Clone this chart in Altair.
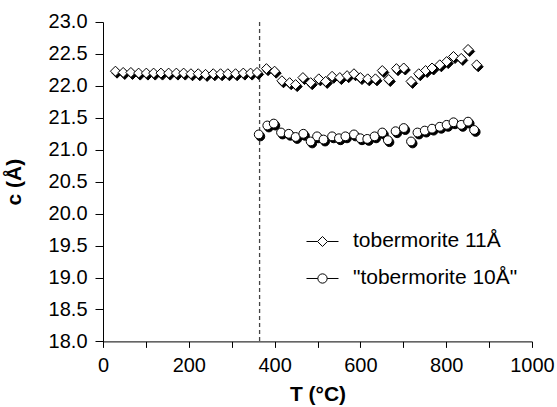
import altair as alt
import pandas as pd

# tobermorite 11Å  (diamonds)
t11_T = [29, 47, 65, 83, 101, 118, 135, 153, 171, 188, 205, 222, 239, 257, 274, 291, 309, 327, 344, 359,
         381, 400, 417, 435, 449, 466, 484, 503, 519, 534, 552, 569, 585, 600, 617, 635, 651, 666, 684, 701,
         718, 736, 752, 767, 785, 801, 817, 835, 851, 871]
t11_c = [22.23, 22.21, 22.21, 22.20, 22.20, 22.20, 22.20, 22.20, 22.20, 22.20, 22.19, 22.19, 22.18, 22.19, 22.19,
         22.19, 22.19, 22.20, 22.20, 22.21,
         22.27, 22.23, 22.08, 22.05, 22.02, 22.13, 22.05, 22.11, 22.07, 22.15, 22.13, 22.16, 22.19, 22.13, 22.11,
         22.11, 22.24, 22.10, 22.27, 22.28, 22.07, 22.19, 22.24, 22.28, 22.33, 22.38, 22.46, 22.43, 22.57, 22.33]

# "tobermorite 10Å" (circles)
t10_T = [363, 383, 398, 415, 433, 449, 467, 484, 499, 514, 534, 550, 565, 585, 600, 616, 633, 651, 664, 682,
         701, 718, 733, 750, 767, 785, 801, 817, 835, 851, 865]
t10_c = [21.24, 21.38, 21.41, 21.27, 21.25, 21.20, 21.25, 21.13, 21.21, 21.16, 21.21, 21.18, 21.21, 21.24, 21.18,
         21.17, 21.21, 21.27, 21.15, 21.29, 21.34, 21.13, 21.27, 21.30, 21.33, 21.36, 21.39, 21.43, 21.39, 21.44, 21.31]

series_names = ["tobermorite 11Å", "\"tobermorite 10Å\""]
transition_T = [365]

x_ticks = list(range(0, 1001, 100))
y_ticks = [18.0, 18.5, 19.0, 19.5, 20.0, 20.5, 21.0, 21.5, 22.0, 22.5, 23.0]

df11 = pd.DataFrame({"T": t11_T, "c": t11_c, "series": series_names[0]})
df10 = pd.DataFrame({"T": t10_T, "c": t10_c, "series": series_names[1]})
dfall = pd.concat([df11, df10], ignore_index=True)
dfline = pd.DataFrame({"T": transition_T})

FONT = "Liberation Sans"

xenc = alt.X("T:Q", scale=alt.Scale(domain=[0, 1000], nice=False, zero=False),
             axis=alt.Axis(values=x_ticks, title="T (°C)", format="d", labelFlush=False,
                           labelExpr="datum.value % 200 === 0 ? datum.label : ''"))
yenc = alt.Y("c:Q", scale=alt.Scale(domain=[18, 23], nice=False, zero=False),
             axis=alt.Axis(values=y_ticks, format=".1f", title="c (Å)", labelFlush=False))

def pts(df, shape, size, shadow):
    if shadow:
        m = alt.Chart(df).mark_point(shape=shape, size=size, filled=True, fill="black", stroke="black",
                                     strokeWidth=1, opacity=1, xOffset=1.6, yOffset=2)
    else:
        m = alt.Chart(df).mark_point(shape=shape, size=size, filled=True, fill="white", stroke="black",
                                     strokeWidth=1, opacity=1)
    return m.encode(x=xenc, y=yenc)

rule = alt.Chart(dfline).mark_rule(color="#444444", strokeWidth=1.3, strokeDash=[4, 3]).encode(x=xenc)

diamond_path = "M-3.2,0L-1,0M-1,0L0,-1L1,0L0,1ZM1,0L3.2,0"
circle_path = "M-3.2,0L-0.93,0M-0.93,0A0.93,0.93,0,1,1,0.93,0A0.93,0.93,0,1,1,-0.93,0M0.93,0L3.2,0"

legend_layer = alt.Chart(dfall).mark_point(opacity=0).encode(
    x=xenc, y=yenc,
    shape=alt.Shape("series:N",
                    scale=alt.Scale(domain=series_names, range=[diamond_path, circle_path]),
                    legend=alt.Legend(orient="none", legendX=209, legendY=209, title=None,
                                      labelFont=FONT, labelFontSize=21, labelColor="black",
                                      labelLimit=400,
                                      symbolSize=100, symbolFillColor="white", symbolStrokeColor="black",
                                      symbolStrokeWidth=1, symbolOpacity=1, labelOffset=20,
                                      rowPadding=15, padding=0))
)

chart = alt.layer(
    rule,
    pts(df11, "diamond", 100, True), pts(df11, "diamond", 100, False),
    pts(df10, "circle", 78, True), pts(df10, "circle", 78, False),
    legend_layer,
).properties(
    width=429, height=319.4,
    autosize=alt.AutoSizeParams(type="none"),
    padding={"left": 103, "top": 22, "right": 25, "bottom": 65},
).configure_view(stroke=None).configure_axis(
    grid=False, domainColor="black", tickColor="black", domainWidth=1, tickWidth=1,
    labelFont=FONT, labelFontSize=20, labelColor="black",
    titleFont=FONT, titleFontSize=21, titleFontWeight="bold", titleColor="black",
).configure_axisX(tickSize=6, labelPadding=8, titlePadding=8).configure_axisY(
    tickSize=8, labelPadding=8, titlePadding=24)

chart.save("out.html", embed_options={"renderer": "svg", "actions": False})
